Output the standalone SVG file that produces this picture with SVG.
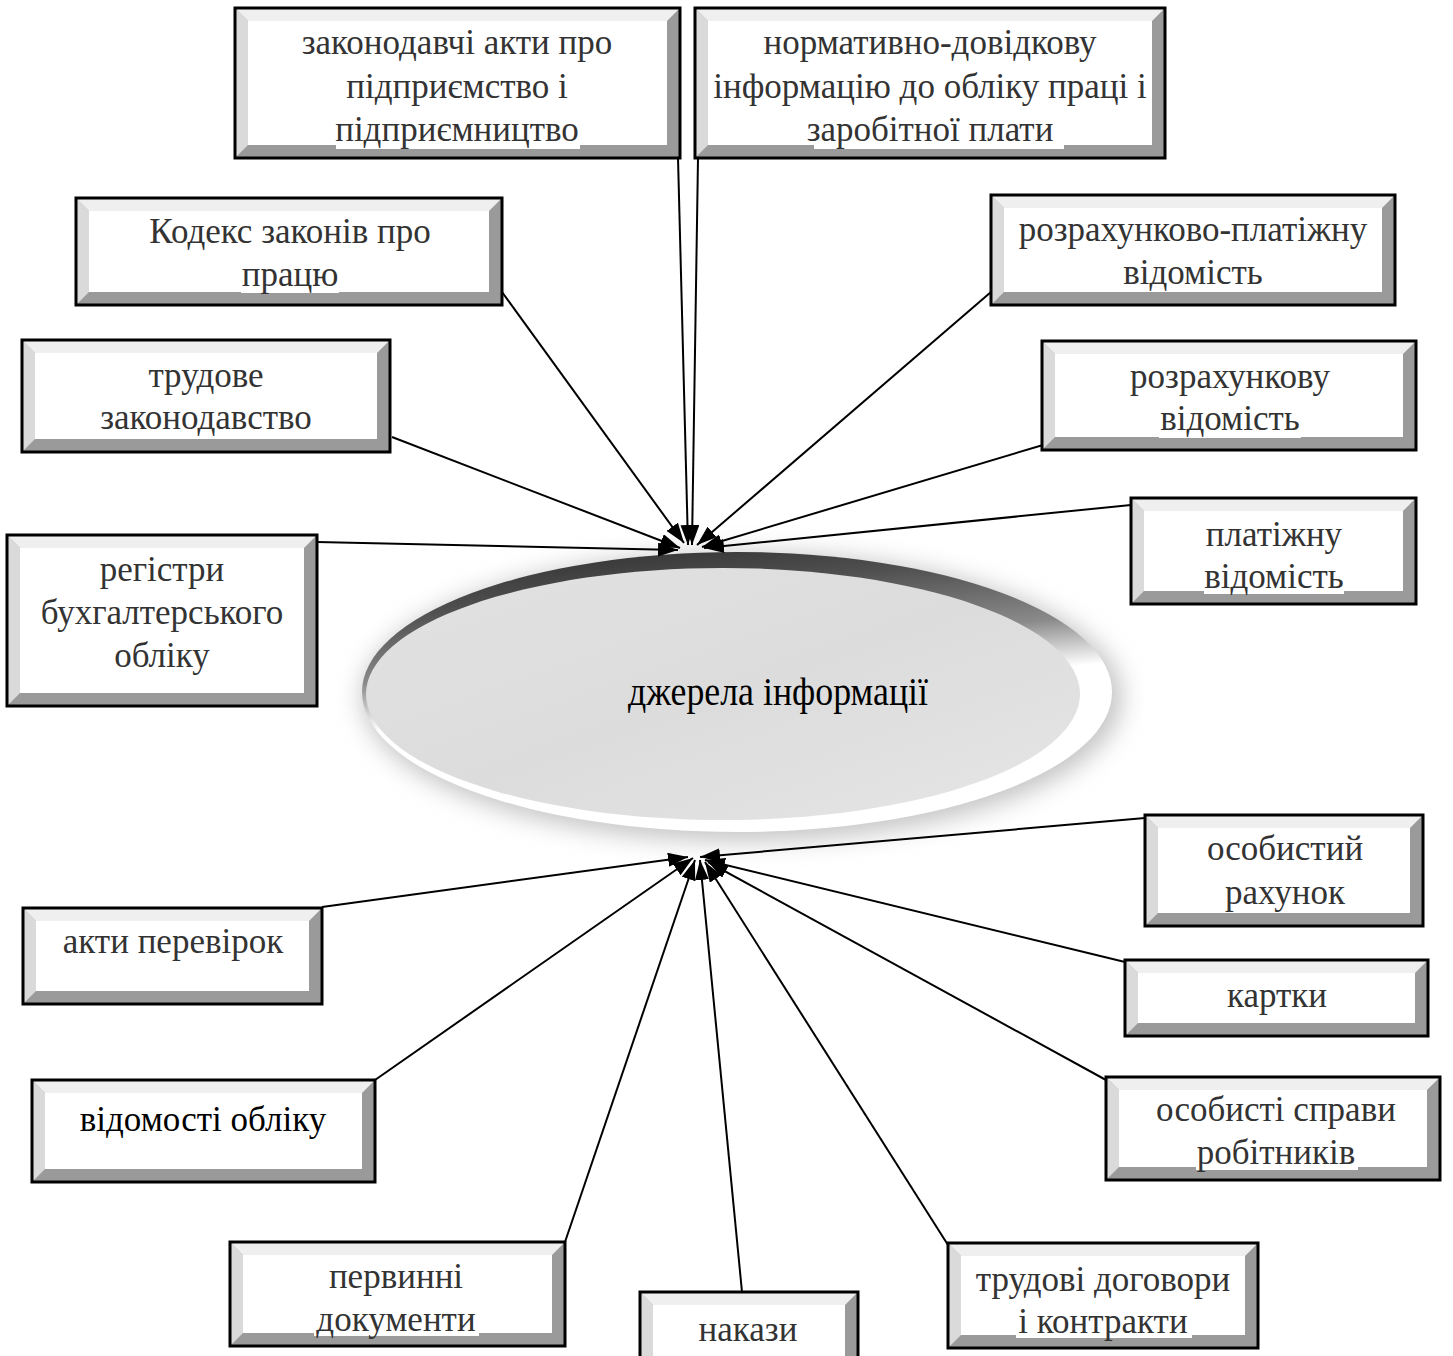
<svg xmlns="http://www.w3.org/2000/svg" width="1453" height="1356" viewBox="0 0 1453 1356">
<defs>
<style>
.lb{fill:#dadada}.tb{fill:#efefef}.base{fill:#9a9a9a}.face{fill:#fff}.bd{fill:none;stroke:#000;stroke-width:3}
.t{font-family:"Liberation Serif","Times New Roman",serif;font-size:35px;fill:#333;text-anchor:middle}
.hl{fill:#fff}
.c line{stroke:#000;stroke-width:2;marker-end:url(#ah)}
</style>
<marker id="ah" viewBox="0 0 20 14" refX="20" refY="7" markerWidth="20" markerHeight="14" markerUnits="userSpaceOnUse" orient="auto"><path d="M0,0 L20,7 L0,14 z" fill="#000"/></marker>
<linearGradient id="rim" gradientUnits="userSpaceOnUse" x1="351" y1="571" x2="366" y2="732">
<stop offset="0" stop-color="#333"/><stop offset="0.3" stop-color="#505050"/><stop offset="0.7" stop-color="#8a8a8a"/><stop offset="0.88" stop-color="#d0d0d0"/><stop offset="1" stop-color="#fff"/>
</linearGradient>
<linearGradient id="face" x1="0" y1="0" x2="1" y2="1">
<stop offset="0" stop-color="#e2e2e2"/><stop offset="0.5" stop-color="#dcdcdc"/><stop offset="1" stop-color="#e6e6e6"/>
</linearGradient>
<filter id="blur" x="-20%" y="-30%" width="140%" height="160%"><feGaussianBlur stdDeviation="12"/></filter>
</defs>
<rect width="1453" height="1356" fill="#fff"/>

<g id="center">
<ellipse cx="742" cy="697" rx="380" ry="144" fill="#c4c4c4" filter="url(#blur)"/>
<ellipse cx="737" cy="692" rx="375" ry="140" fill="url(#rim)"/>
<ellipse cx="723" cy="694" rx="357" ry="126" fill="url(#face)"/>
<text x="778" y="705" font-family="Liberation Serif, Times New Roman, serif" font-size="40" fill="#000" text-anchor="middle" textLength="300" lengthAdjust="spacingAndGlyphs">джерела інформації</text>
</g>

<g id="connectors" class="c">
<line x1="678" y1="158" x2="688" y2="545"/>
<line x1="698" y1="158" x2="692" y2="545"/>
<line x1="502" y1="292" x2="684" y2="543"/>
<line x1="991" y1="292" x2="697" y2="545"/>
<line x1="392" y1="437" x2="680" y2="548"/>
<line x1="1043" y1="445" x2="702" y2="547"/>
<line x1="1131" y1="505" x2="704" y2="548"/>
<line x1="317" y1="542" x2="678" y2="550"/>
<line x1="1145" y1="818" x2="700" y2="857"/>
<line x1="322" y1="907" x2="688" y2="857"/>
<line x1="1125" y1="962" x2="705" y2="860"/>
<line x1="375" y1="1080" x2="693" y2="858"/>
<line x1="1106" y1="1080" x2="708" y2="862"/>
<line x1="565" y1="1242" x2="695" y2="860"/>
<line x1="742" y1="1292" x2="700" y2="860"/>
<line x1="948" y1="1245" x2="705" y2="862"/>
</g>

<g id="n1">
<rect class="base" x="235" y="8" width="445" height="150"/>
<polygon class="lb" points="235,8 248,21 248,145 235,158"/>
<polygon class="tb" points="235,8 680,8 667,21 248,21"/>
<rect class="face" x="248" y="21" width="419" height="124"/>
<rect class="hl" x="336" y="120" width="244" height="29"/>
<rect class="bd" x="235" y="8" width="445" height="150"/>
<text class="t" x="457" y="54">законодавчі акти про</text>
<text class="t" x="457" y="98">підприємство і</text>
<text class="t" x="457" y="141">підприємництво</text>
</g>

<g id="n2">
<rect class="base" x="695" y="8" width="470" height="150"/>
<polygon class="lb" points="695,8 708,21 708,145 695,158"/>
<polygon class="tb" points="695,8 1165,8 1152,21 708,21"/>
<rect class="face" x="708" y="21" width="444" height="124"/>
<rect class="hl" x="814" y="120" width="250" height="29"/>
<rect class="bd" x="695" y="8" width="470" height="150"/>
<text class="t" x="930" y="54">нормативно-довідкову</text>
<text class="t" x="930" y="98">інформацію до обліку праці і</text>
<text class="t" x="930" y="141">заробітної плати</text>
</g>

<g id="n3">
<rect class="base" x="76" y="198" width="426" height="107"/>
<polygon class="lb" points="76,198 89,211 89,292 76,305"/>
<polygon class="tb" points="76,198 502,198 489,211 89,211"/>
<rect class="face" x="89" y="211" width="400" height="81"/>
<rect class="hl" x="241" y="264" width="98" height="29"/>
<rect class="bd" x="76" y="198" width="426" height="107"/>
<text class="t" x="290" y="243">Кодекс законів про</text>
<text class="t" x="290" y="286">працю</text>
</g>

<g id="n4">
<rect class="base" x="991" y="195" width="404" height="110"/>
<polygon class="lb" points="991,195 1004,208 1004,292 991,305"/>
<polygon class="tb" points="991,195 1395,195 1382,208 1004,208"/>
<rect class="face" x="1004" y="208" width="378" height="84"/>
<rect class="hl" x="1123" y="262" width="140" height="30"/>
<rect class="bd" x="991" y="195" width="404" height="110"/>
<text class="t" x="1193" y="241">розрахунково-платіжну</text>
<text class="t" x="1193" y="284">відомість</text>
</g>

<g id="n5">
<rect class="base" x="22" y="340" width="368" height="112"/>
<polygon class="lb" points="22,340 35,353 35,439 22,452"/>
<polygon class="tb" points="22,340 390,340 377,353 35,353"/>
<rect class="face" x="35" y="353" width="342" height="86"/>
<rect class="bd" x="22" y="340" width="368" height="112"/>
<text class="t" x="206" y="387">трудове</text>
<text class="t" x="206" y="429">законодавство</text>
</g>

<g id="n6">
<rect class="base" x="1042" y="341" width="374" height="109"/>
<polygon class="lb" points="1042,341 1055,354 1055,437 1042,450"/>
<polygon class="tb" points="1042,341 1416,341 1403,354 1055,354"/>
<rect class="face" x="1055" y="354" width="348" height="83"/>
<rect class="hl" x="1159" y="406" width="142" height="32"/>
<rect class="bd" x="1042" y="341" width="374" height="109"/>
<text class="t" x="1230" y="388">розрахункову</text>
<text class="t" x="1230" y="430">відомість</text>
</g>

<g id="n7">
<rect class="base" x="1131" y="498" width="285" height="106"/>
<polygon class="lb" points="1131,498 1144,511 1144,591 1131,604"/>
<polygon class="tb" points="1131,498 1416,498 1403,511 1144,511"/>
<rect class="face" x="1144" y="511" width="259" height="80"/>
<rect class="hl" x="1204" y="564" width="140" height="30"/>
<rect class="bd" x="1131" y="498" width="285" height="106"/>
<text class="t" x="1274" y="546">платіжну</text>
<text class="t" x="1274" y="588">відомість</text>
</g>

<g id="n8">
<rect class="base" x="7" y="535" width="310" height="171"/>
<polygon class="lb" points="7,535 20,548 20,693 7,706"/>
<polygon class="tb" points="7,535 317,535 304,548 20,548"/>
<rect class="face" x="20" y="548" width="284" height="145"/>
<rect class="bd" x="7" y="535" width="310" height="171"/>
<text class="t" x="162" y="581">регістри</text>
<text class="t" x="162" y="624">бухгалтерського</text>
<text class="t" x="162" y="667">обліку</text>
</g>

<g id="n9">
<rect class="base" x="1145" y="815" width="278" height="111"/>
<polygon class="lb" points="1145,815 1158,828 1158,913 1145,926"/>
<polygon class="tb" points="1145,815 1423,815 1410,828 1158,828"/>
<rect class="face" x="1158" y="828" width="252" height="85"/>
<rect class="bd" x="1145" y="815" width="278" height="111"/>
<text class="t" x="1285" y="860">особистий</text>
<text class="t" x="1285" y="904">рахунок</text>
</g>

<g id="n10">
<rect class="base" x="23" y="908" width="299" height="96"/>
<polygon class="lb" points="23,908 36,921 36,991 23,1004"/>
<polygon class="tb" points="23,908 322,908 309,921 36,921"/>
<rect class="face" x="36" y="921" width="273" height="70"/>
<rect class="bd" x="23" y="908" width="299" height="96"/>
<text class="t" x="173" y="953">акти перевірок</text>
</g>

<g id="n11">
<rect class="base" x="1125" y="960" width="303" height="76"/>
<polygon class="lb" points="1125,960 1138,973 1138,1023 1125,1036"/>
<polygon class="tb" points="1125,960 1428,960 1415,973 1138,973"/>
<rect class="face" x="1138" y="973" width="277" height="50"/>
<rect class="bd" x="1125" y="960" width="303" height="76"/>
<text class="t" x="1277" y="1007">картки</text>
</g>

<g id="n12">
<rect class="base" x="32" y="1080" width="343" height="102"/>
<polygon class="lb" points="32,1080 45,1093 45,1169 32,1182"/>
<polygon class="tb" points="32,1080 375,1080 362,1093 45,1093"/>
<rect class="face" x="45" y="1093" width="317" height="76"/>
<rect class="bd" x="32" y="1080" width="343" height="102"/>
<text class="t" x="203" y="1131" style="fill:#000">відомості обліку</text>
</g>

<g id="n13">
<rect class="base" x="1106" y="1077" width="334" height="103"/>
<polygon class="lb" points="1106,1077 1119,1090 1119,1167 1106,1180"/>
<polygon class="tb" points="1106,1077 1440,1077 1427,1090 1119,1090"/>
<rect class="face" x="1119" y="1090" width="308" height="77"/>
<rect class="hl" x="1196" y="1138" width="162" height="32"/>
<rect class="bd" x="1106" y="1077" width="334" height="103"/>
<text class="t" x="1276" y="1121">особисті справи</text>
<text class="t" x="1276" y="1164">робітників</text>
</g>

<g id="n14">
<rect class="base" x="230" y="1242" width="335" height="104"/>
<polygon class="lb" points="230,1242 243,1255 243,1333 230,1346"/>
<polygon class="tb" points="230,1242 565,1242 552,1255 243,1255"/>
<rect class="face" x="243" y="1255" width="309" height="78"/>
<rect class="hl" x="314" y="1306" width="165" height="30"/>
<rect class="bd" x="230" y="1242" width="335" height="104"/>
<text class="t" x="396" y="1288">первинні</text>
<text class="t" x="396" y="1331">документи</text>
</g>

<g id="n15">
<rect class="base" x="640" y="1292" width="218" height="80"/>
<polygon class="lb" points="640,1292 653,1305 653,1359 640,1372"/>
<polygon class="tb" points="640,1292 858,1292 845,1305 653,1305"/>
<rect class="face" x="653" y="1305" width="192" height="54"/>
<rect class="hl" x="699" y="1316" width="100" height="30"/>
<rect class="bd" x="640" y="1292" width="218" height="80"/>
<text class="t" x="748" y="1341">накази</text>
</g>

<g id="n16">
<rect class="base" x="948" y="1243" width="310" height="105"/>
<polygon class="lb" points="948,1243 961,1256 961,1335 948,1348"/>
<polygon class="tb" points="948,1243 1258,1243 1245,1256 961,1256"/>
<rect class="face" x="961" y="1256" width="284" height="79"/>
<rect class="hl" x="1016" y="1308" width="176" height="30"/>
<rect class="bd" x="948" y="1243" width="310" height="105"/>
<text class="t" x="1103" y="1291">трудові договори</text>
<text class="t" x="1103" y="1333">і контракти</text>
</g>
</svg>
